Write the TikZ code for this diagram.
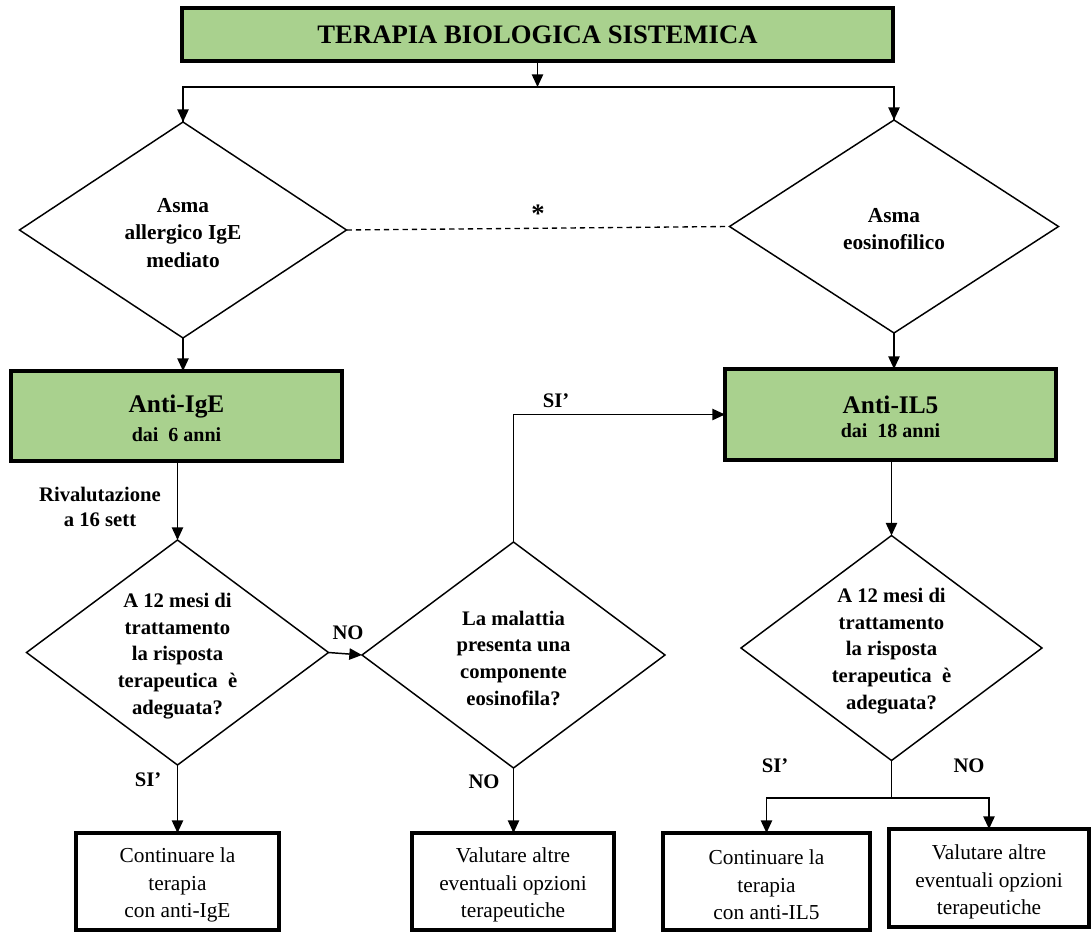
\documentclass[tikz,border=0pt]{standalone}
\usepackage{fontspec}
\setmainfont{Liberation Serif}
\usetikzlibrary{shapes.geometric,arrows.meta}
\definecolor{grn}{RGB}{169,209,142}
\begin{document}
\begin{tikzpicture}[x=0.75pt,y=-0.75pt,
  arr/.style={-{Triangle[length=9.5pt,width=8.5pt]}, line width=1.1pt},
  conn/.style={line width=1.1pt},
  gbox/.style={draw, line width=2.8pt, fill=grn, inner sep=0pt, outer sep=0pt, align=center},
  wbox/.style={draw, line width=2.8pt, fill=white, inner sep=0pt, outer sep=0pt},
  wtxt/.style={align=center, font=\fontsize{16}{20.5}\selectfont},
  dia/.style={draw, shape=diamond, line width=1.1pt, inner sep=0pt, outer sep=0pt},
  dtxt/.style={align=center, font=\bfseries\fontsize{15.5}{20}\selectfont},
  atxt/.style={align=center, font=\bfseries\fontsize{16}{20.5}\selectfont},
  lab/.style={font=\bfseries\fontsize{15.5}{18}\selectfont}]
\useasboundingbox (0,0) rectangle (1092,932);

% title
\node[gbox, minimum width=711*0.75pt, minimum height=53*0.75pt,
  font=\bfseries\fontsize{20}{24}\selectfont] (title) at (537.5,34.5) {TERAPIA BIOLOGICA SISTEMICA};
\coordinate (jt) at (537.5,87);

% first diamonds
\node[dia, minimum width=327*0.75pt, minimum height=216*0.75pt] (d1) at (183,230) {};
\node[atxt] (d1t) at (183,233) {Asma\\allergico IgE\\mediato};
\node[dia, minimum width=329*0.75pt, minimum height=213*0.75pt] (d2) at (894,226.5) {};
\node[atxt] (d2t) at (894,229) {Asma\\eosinofilico};
\node[font=\bfseries\fontsize{20}{24}\selectfont] (ast) at (538,214) {*};

% green boxes
\node[gbox, minimum width=331*0.75pt, minimum height=90*0.75pt] (b1) at (176.5,416) {};
\node[align=center] (b1t) at (176.5,418) {{\bfseries\fontsize{19}{22}\selectfont Anti-IgE}\\[6pt]{\bfseries\fontsize{15}{18}\selectfont dai\ \ 6 anni}};
\node[gbox, minimum width=331*0.75pt, minimum height=91*0.75pt] (b2) at (890.5,414.5) {};
\node[align=center] (b2t) at (890.5,416.5) {{\bfseries\fontsize{19}{22}\selectfont Anti-IL5}\\[6pt]{\bfseries\fontsize{15}{18}\selectfont dai\ \ 18 anni}};

% second row diamonds
\node[dia, minimum width=302*0.75pt, minimum height=225*0.75pt] (d3) at (177.5,652.5) {};
\node[dtxt] (d3t) at (177.5,656) {A 12 mesi di\\trattamento\\la risposta\\terapeutica\ \ è\\adeguata?};
\node[dia, minimum width=303*0.75pt, minimum height=226*0.75pt] (d4) at (513.5,655) {};
\node[dtxt] (d4t) at (513.5,658) {La malattia\\presenta una\\componente\\eosinofila?};
\node[dia, minimum width=301*0.75pt, minimum height=225*0.75pt] (d5) at (891.5,648) {};
\node[dtxt] (d5t) at (891.5,651) {A 12 mesi di\\trattamento\\la risposta\\terapeutica\ \ è\\adeguata?};

% bottom boxes
\node[wbox, minimum width=203*0.75pt, minimum height=97*0.75pt] (b3) at (177.5,881.5) {};
\node[wtxt] (b3t) at (177.5,885) {Continuare la\\terapia\\con anti-IgE};
\node[wbox, minimum width=202*0.75pt, minimum height=97*0.75pt] (b4) at (513,881.5) {};
\node[wtxt] (b4t) at (513,885) {Valutare altre\\eventuali opzioni\\terapeutiche};
\node[wbox, minimum width=207*0.75pt, minimum height=97*0.75pt] (b5) at (766.5,881.5) {};
\node[wtxt] (b5t) at (766.5,885) {Continuare la\\terapia\\con anti-IL5};
\node[wbox, minimum width=200*0.75pt, minimum height=98*0.75pt] (b6) at (989,878) {};
\node[wtxt] (b6t) at (989,882) {Valutare altre\\eventuali opzioni\\terapeutiche};

\coordinate (j5) at (891.5,798);

% labels
\node[lab, align=center, font=\bfseries\fontsize{15.5}{19}\selectfont] (riv) at (100,507) {Rivalutazione\\a 16 sett};
\node[lab] (no1) at (348,633) {NO};
\node[lab] (si1) at (556,401) {SI’};
\node[lab] (no2) at (484,782) {NO};
\node[lab] (si2) at (148,780) {SI’};
\node[lab] (si3) at (775,766) {SI’};
\node[lab] (no3) at (969,766) {NO};

% connectors
\draw[arr] (title.south -| jt) -- (jt);
\draw[conn] (jt) -| (d1.north);
\draw[conn] (jt) -| (d2.north);
\draw[arr] ([yshift=-5pt]d1.north |- jt) -- (d1.north);
\draw[arr] ([yshift=-5pt]d2.north |- jt) -- (d2.north);
\draw[line width=1pt, dash pattern=on 4pt off 3pt] (d1.east) -- (d2.west);
\draw[arr] (d1.south) -- (d1.south |- b1.north);
\draw[arr] (d2.south) -- (d2.south |- b2.north);
\draw[arr] (b1.south -| d3.north) -- (d3.north);
\draw[arr] (d3.east) -- (d4.west);
\draw[arr] (d4.north) |- (b2.west);
\draw[arr] (d3.south) -- (d3.south |- b3.north);
\draw[arr] (d4.south) -- (d4.south |- b4.north);
\draw[arr] (b2.south -| d5.north) -- (d5.north);
\draw[conn] (d5.south) -- (j5);
\draw[arr] (j5) -| (b5.north);
\draw[arr] (j5) -| (b6.north);
\end{tikzpicture}
\end{document}
